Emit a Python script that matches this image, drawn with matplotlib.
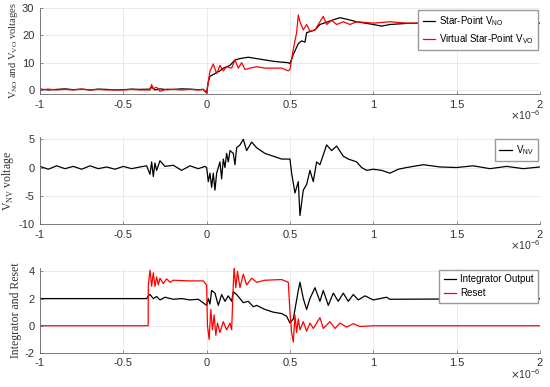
import numpy as np
import matplotlib
matplotlib.use("Agg")
import matplotlib.pyplot as plt
from matplotlib.ticker import FuncFormatter

plt.rcParams['font.family'] = ['Liberation Sans', 'DejaVu Sans']
plt.rcParams['axes.unicode_minus'] = False

# time in microseconds
t_no = [-1, -0.95, -0.9, -0.85, -0.8, -0.75, -0.7, -0.65, -0.6, -0.55, -0.5, -0.45, -0.4, -0.34,
        -0.33, -0.31, -0.28, -0.24, -0.2, -0.15, -0.1, -0.05, -0.02, 0.0,
        0.01, 0.02, 0.05, 0.08, 0.1, 0.14, 0.17, 0.2, 0.25, 0.3, 0.35, 0.4, 0.45, 0.49, 0.5,
        0.52, 0.55, 0.57, 0.59, 0.6, 0.65, 0.68, 0.75, 0.8, 0.85, 0.9, 1.0, 1.05, 1.1, 1.2,
        1.3, 1.4, 1.5, 1.6, 1.7, 1.8, 1.9, 2.0]
v_no = [0.3, 0.0, 0.2, 0.4, 0.1, 0.3, 0.0, 0.3, 0.2, 0.0, 0.1, 0.3, 0.2, 0.3,
        1.0, 0.0, 0.4, 0.1, 0.2, 0.4, 0.3, 0.1, 0.2, -1.0,
        3.0, 5.0, 6.0, 7.0, 8.0, 9.0, 11.0, 11.5, 12.0, 11.5, 11.0, 10.5, 10.2, 10.0, 9.6,
        13.0, 17.0, 18.0, 17.5, 21.0, 22.0, 24.0, 25.5, 26.5, 25.8, 25.0, 24.0, 23.4, 24.0, 24.4,
        24.5, 24.3, 24.5, 24.7, 24.6, 24.4, 24.6, 24.4]

t_vo = [-1, -0.95, -0.9, -0.85, -0.8, -0.75, -0.7, -0.65, -0.6, -0.55, -0.5, -0.45, -0.4, -0.34,
        -0.33, -0.32, -0.3, -0.28, -0.24, -0.2, -0.15, -0.1, -0.05, -0.02, 0.0,
        0.02, 0.04, 0.06, 0.08, 0.1, 0.12, 0.15, 0.17, 0.19, 0.21, 0.23, 0.26, 0.3, 0.35, 0.4, 0.45, 0.49, 0.5,
        0.52, 0.54, 0.55, 0.56, 0.58, 0.6, 0.62, 0.65, 0.7, 0.72, 0.75, 0.78, 0.82, 0.86, 0.9,
        1.0, 1.1, 1.2, 1.35, 1.5, 1.6, 1.75, 1.9, 2.0]
v_vo = [0.0, 0.3, 0.0, 0.2, 0.0, 0.3, 0.0, 0.2, 0.0, 0.1, 0.0, 0.2, 0.0, 0.0,
        2.0, 0.5, 1.0, -0.5, 0.3, 0.2, 0.0, 0.2, 0.0, 0.2, -1.2,
        7.0, 9.5, 6.0, 9.0, 7.0, 8.5, 8.0, 11.0, 8.0, 10.0, 7.5, 8.0, 8.5, 8.0, 8.0, 8.0, 7.0, 7.5,
        15.0, 21.0, 27.5, 25.0, 22.0, 24.0, 21.5, 22.0, 27.0, 24.0, 25.5, 24.0, 25.0, 24.0, 25.0,
        24.5, 25.0, 24.5, 24.5, 24.8, 24.4, 24.7, 24.5, 24.5]

t_nv = [-1, -0.95, -0.9, -0.85, -0.8, -0.75, -0.7, -0.65, -0.6, -0.55, -0.5, -0.45, -0.4, -0.36,
        -0.34, -0.33, -0.32, -0.31, -0.3, -0.28, -0.25, -0.2, -0.15, -0.1, -0.05, -0.01,
        0.0, 0.01, 0.02, 0.03, 0.04, 0.05, 0.06, 0.08, 0.09, 0.1, 0.11, 0.12, 0.13, 0.14, 0.16, 0.17,
        0.18, 0.2, 0.22, 0.24, 0.27, 0.3, 0.35, 0.4, 0.45, 0.5,
        0.51, 0.53, 0.55, 0.56, 0.58, 0.6, 0.62, 0.64, 0.66, 0.68, 0.72, 0.75, 0.78, 0.82, 0.85,
        0.9, 0.93, 0.96, 1.0, 1.05, 1.1, 1.15, 1.2, 1.3, 1.4, 1.5, 1.6, 1.7, 1.8, 1.9, 2.0]
v_nv = [0.2, -0.3, 0.3, -0.2, 0.2, -0.3, 0.3, -0.2, 0.1, -0.3, 0.2, -0.2, 0.1, 0.3,
        -1.2, 1.0, -1.6, 0.8, -0.5, 1.2, 0.2, 0.4, -0.5, 0.3, -0.2, 0.2,
        0.0, -2.5, -1.0, -3.5, -1.0, -4.0, -1.0, 1.0, -2.0, 1.5, 0.0, 2.5, 1.0, 3.0, 2.5, 0.5,
        3.5, 4.0, 5.0, 3.0, 4.5, 3.5, 2.5, 2.0, 1.5, 1.5,
        -1.0, -4.5, -2.5, -8.5, -4.0, -3.0, -0.5, -2.5, 1.0, 0.5, 4.0, 3.0, 3.8, 2.0, 1.5,
        1.0, 0.0, -0.5, -0.3, -0.5, -1.0, -0.3, 0.0, 0.5, 0.1, 0.0, 0.3, -0.2, 0.2, -0.2, 0.1]

t_int = [-1, -0.6, -0.36, -0.35, -0.34, -0.32, -0.3, -0.28, -0.25, -0.2, -0.15, -0.1, -0.05,
         0.0, 0.01, 0.02, 0.03, 0.05, 0.07, 0.09, 0.11, 0.13, 0.15, 0.16, 0.18, 0.2, 0.22, 0.25,
         0.28, 0.3, 0.35, 0.4, 0.45, 0.48, 0.5, 0.52, 0.55, 0.56, 0.58, 0.6, 0.62, 0.65, 0.68,
         0.7, 0.73, 0.76, 0.79, 0.82, 0.85, 0.88, 0.91, 0.95, 1.0, 1.08, 1.1, 2.0]
v_int = [2.0, 2.0, 2.0, 2.2, 2.3, 2.0, 2.15, 1.9, 2.1, 1.95, 2.0, 1.9, 1.95,
         1.5, 2.0, 1.6, 2.6, 2.4, 1.5, 2.3, 1.8, 2.2, 1.8, 2.5, 2.3, 2.0, 1.7, 1.8,
         1.4, 1.5, 1.2, 1.0, 0.9, 0.7, 0.2, 0.5, 2.6, 3.2, 2.0, 1.2, 2.0, 2.8, 1.8,
         2.6, 1.5, 2.4, 1.8, 2.4, 1.8, 2.3, 1.9, 2.2, 1.9, 2.1, 1.95, 2.0]

t_rst = [-1, -0.351, -0.35, -0.34, -0.33, -0.32, -0.31, -0.3, -0.29, -0.28, -0.26, -0.24, -0.22,
         -0.2, -0.1, -0.02, 0.0, 0.005, 0.015, 0.025, 0.035, 0.045, 0.055, 0.065, 0.08, 0.1, 0.12,
         0.14, 0.15, 0.16, 0.165, 0.175, 0.185, 0.2, 0.22, 0.24, 0.27, 0.3, 0.35, 0.45, 0.49, 0.5,
         0.51, 0.52, 0.53, 0.54, 0.55, 0.56, 0.58, 0.6, 0.62, 0.64, 0.68, 0.7, 0.74, 0.77, 0.8,
         0.84, 0.88, 0.92, 1.0, 2.0]
v_rst = [0.0, 0.0, 3.0, 4.1, 2.9, 3.9, 2.9, 3.6, 3.0, 3.5, 3.1, 3.45, 3.2,
         3.35, 3.3, 3.3, 3.0, 0.0, -1.0, 1.2, -0.3, 0.8, -0.7, 0.2, -0.5, 0.3, -0.3,
         0.2, -0.3, 3.0, 4.3, 2.8, 4.0, 2.8, 3.8, 3.0, 3.5, 3.2, 3.35, 3.4, 3.2, 1.0,
         -0.5, -1.2, 0.8, -0.5, 0.5, -0.3, 0.3, -0.4, 0.2, -0.2, 0.6, -0.2, 0.3, -0.2, 0.2,
         -0.1, 0.15, -0.05, 0.0, 0.0]

xticks = [-1, -0.5, 0, 0.5, 1, 1.5, 2]

fig = plt.figure(figsize=(5.5, 3.87), dpi=100)
ax1 = fig.add_axes([0.0727, 0.757, 0.909, 0.222])
ax2 = fig.add_axes([0.0727, 0.421, 0.909, 0.225])
ax3 = fig.add_axes([0.0727, 0.088, 0.909, 0.2195])

us = 1e-6
ax1.plot(np.array(t_no) * us, v_no, color='black', lw=0.9, label='Star-Point V$_\\mathregular{NO}$')
ax1.plot(np.array(t_vo) * us, v_vo, color='red', lw=0.9, label='Virtual Star-Point V$_\\mathregular{VO}$')
ax2.plot(np.array(t_nv) * us, v_nv, color='black', lw=0.9, label='V$_\\mathregular{NV}$')
ax3.plot(np.array(t_int) * us, v_int, color='black', lw=0.9, label='Integrator Output')
ax3.plot(np.array(t_rst) * us, v_rst, color='red', lw=0.9, label='Reset')

ylims = [(-1.5, 30), (-10, 5.4), (-2, 4.25)]
yticks = [[0, 10, 20, 30], [-10, -5, 0, 5], [-2, 0, 2, 4]]
ylabels = ['V$_\\mathregular{NO}$ and V$_\\mathregular{VO}$ voltages', 'V$_\\mathregular{NV}$ voltage',
           'Integrator and Reset']
ysizes = [7.6, 8.5, 8.5]

for ax, yl, yt, lab, fs in zip([ax1, ax2, ax3], ylims, yticks, ylabels, ysizes):
    ax.set_xlim(-1e-6, 2e-6)
    ax.set_ylim(yl)
    ax.set_xticks(np.array(xticks) * us)
    ax.xaxis.set_major_formatter(FuncFormatter(lambda v, p: '%g' % round(v * 1e6, 3)))
    ax.set_yticks(yt)
    ax.grid(True, color='#e8e8e8', lw=0.6)
    ax.set_axisbelow(True)
    for s in ['top', 'right']:
        ax.spines[s].set_visible(False)
    for s in ['left', 'bottom']:
        ax.spines[s].set_color('#666666')
        ax.spines[s].set_linewidth(0.6)
    ax.tick_params(direction='in', length=2, width=0.5, color='#666666', labelsize=8,
                   labelcolor='#333333', pad=4)
    ax.set_ylabel(lab, family='Liberation Serif', fontsize=fs, color='#333333', labelpad=2)
    ax.annotate('$\\times$10$^{\\mathregular{-6}}$', xy=(1.0, 0), xycoords='axes fraction',
                xytext=(0, -10.5), textcoords='offset points', ha='right', va='top',
                fontsize=7.5, color='#333333')
    ax.legend(loc='upper right', fontsize=7, frameon=True, fancybox=False, framealpha=1,
              edgecolor='#999999', handlelength=1.3, borderpad=0.45, labelspacing=0.4,
              handletextpad=0.4, borderaxespad=0.2)

ax1.yaxis.set_label_coords(-0.04, 0.5)

fig.savefig('out.png', dpi=100)
